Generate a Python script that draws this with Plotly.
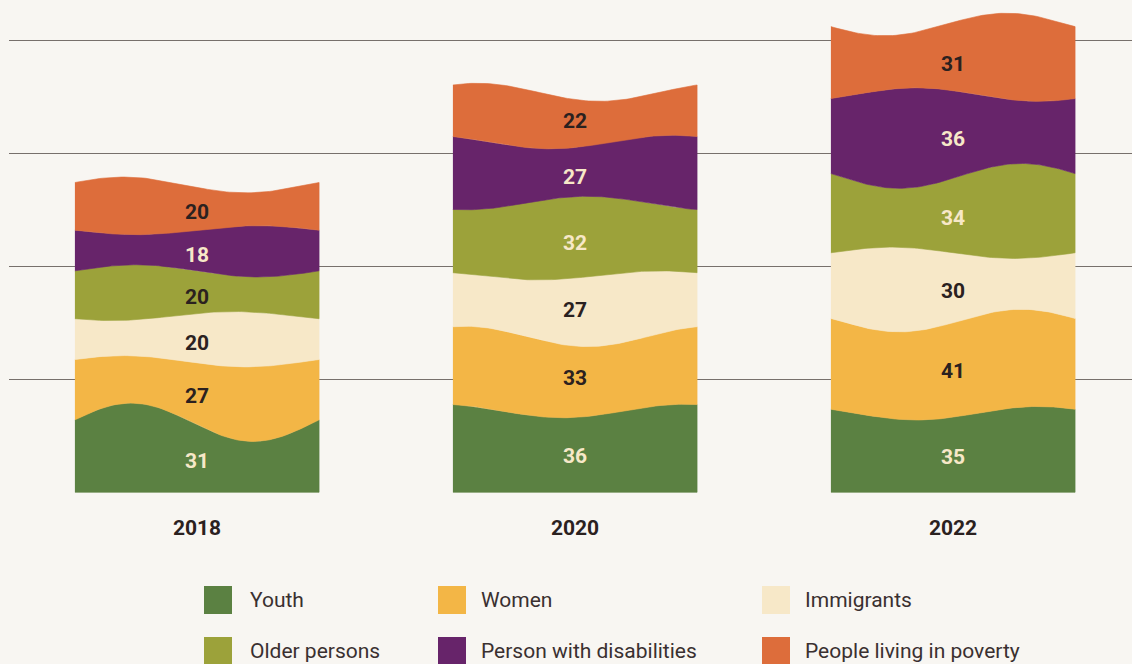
import numpy as np
import plotly.graph_objects as go

# ---- data -------------------------------------------------------------
years = ["2018", "2020", "2022"]
groups = ["Youth", "Women", "Immigrants", "Older persons",
          "Person with disabilities", "People living in poverty"]
youth = [31, 36, 35]
women = [27, 33, 41]
immigrants = [20, 27, 30]
older = [20, 32, 34]
disabilities = [18, 27, 36]
poverty = [20, 22, 31]
grid_values = [0, 50, 100, 150, 200]

# ---- style ------------------------------------------------------------
series = [youth, women, immigrants, older, disabilities, poverty]
fills = ["#5b8142", "#f3b646", "#f7e8c8", "#9ca23a", "#67246a", "#dd6d3b"]
LIGHT, DARK = "#f7e8c8", "#2b211f"
label_colors = [
    [LIGHT, LIGHT, LIGHT],
    [DARK, DARK, DARK],
    [DARK, DARK, DARK],
    [DARK, LIGHT, LIGHT],
    [LIGHT, LIGHT, LIGHT],
    [DARK, DARK, DARK],
]
# wavy edge of every segment's upper boundary: (amplitude, crest position 0..1)
waves = [
    [(8.5, 0.23), (2.5, 0.20), (2.0, 0.65), (2.7, 0.25), (2.0, 0.75), (3.5, 0.20)],
    [(3.0, 0.95), (4.5, 0.05), (2.0, 0.85), (3.0, 0.55), (3.0, 0.90), (4.0, 0.10)],
    [(3.0, 0.85), (5.0, 0.78), (2.5, 0.25), (5.5, 0.78), (3.0, 0.35), (5.0, 0.72)],
]
half_w = 0.323
bg = "#f8f6f2"
FONT = "Roboto, Noto Sans, sans-serif"

t = np.linspace(0, 1, 80)


def edge(level, amp, crest):
    return level + amp * np.cos(2 * np.pi * (t - crest))


fig = go.Figure()
for i, yr in enumerate(years):
    xs = i - half_w + 2 * half_w * t
    base = 0.0
    lower = np.zeros_like(t)
    for k, vals in enumerate(series):
        v = vals[i]
        amp, crest = waves[i][k]
        upper = edge(base + v, amp, crest)
        fig.add_trace(go.Scatter(
            x=np.concatenate([xs, xs[::-1]]),
            y=np.concatenate([lower, upper[::-1]]),
            fill="toself", fillcolor=fills[k], mode="lines",
            line=dict(color=fills[k], width=0.6),
            hoverinfo="skip", showlegend=False,
        ))
        fig.add_annotation(
            x=i, y=base + v / 2, text=str(v), showarrow=False, yshift=-4,
            font=dict(family=FONT, size=21, color=label_colors[k][i], weight="bold"),
        )
        lower = upper
        base += v

# ---- legend drawn as swatches + text ----------------------------------
W, H = 1132, 664
ML, MR, MT, MB = 9, 0, 5, 171
pw, ph = W - ML - MR, H - MT - MB


def px_x(px):
    return (px - ML) / pw


def px_y(py):
    return (H - MB - py) / ph


swatch_cols = [204, 438, 762]
text_cols = [248, 479, 803]
rows = [600, 651]
for j, name in enumerate(groups):
    r, c = divmod(j, 3)
    cy = rows[r]
    fig.add_shape(type="rect", xref="paper", yref="paper",
                  x0=px_x(swatch_cols[c]), x1=px_x(swatch_cols[c] + 28),
                  y0=px_y(cy + 14), y1=px_y(cy - 14),
                  fillcolor=fills[j], line=dict(width=0))
    fig.add_annotation(xref="paper", yref="paper",
                       x=px_x(text_cols[c]), y=px_y(cy), xanchor="left", yanchor="middle",
                       text=name, showarrow=False,
                       font=dict(family=FONT, size=21, color="#3a3030"))

fig.update_layout(
    width=W, height=H,
    margin=dict(l=ML, r=MR, t=MT, b=MB),
    paper_bgcolor=bg, plot_bgcolor=bg,
    showlegend=False,
    xaxis=dict(range=[(ML - 197) / 378, (W - 197) / 378],
               tickvals=[0, 1, 2], ticktext=years, showgrid=False, zeroline=False,
               ticks="", ticklabelstandoff=20,
               tickfont=dict(family=FONT, size=21, color=DARK, weight="bold")),
    yaxis=dict(range=[-0.3, (H - MB - MT) / 2.26 - 0.3], tickvals=grid_values,
               showticklabels=False, showgrid=True, gridcolor="#77706c", gridwidth=1.2,
               zeroline=False),
)

fig.write_html("out.html")
